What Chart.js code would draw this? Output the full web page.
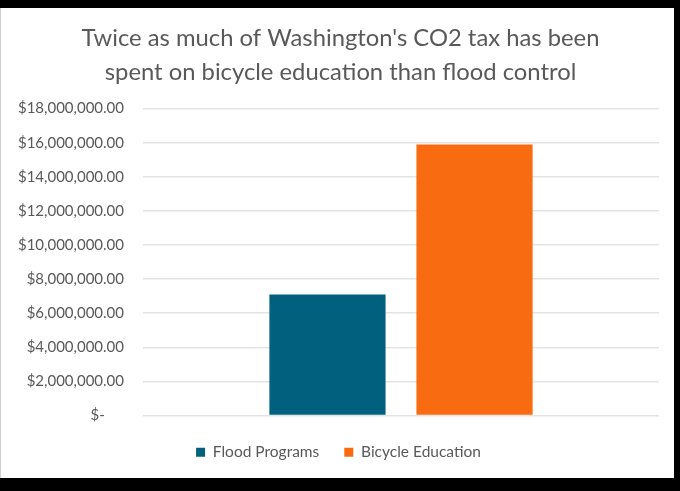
<!DOCTYPE html>
<html>
<head>
<meta charset="utf-8">
<script src="https://cdn.jsdelivr.net/npm/chart.js@4/dist/chart.umd.min.js"></script>
<style>
   html, body { margin: 0; padding: 0; background: #000; }
   body { width: 680px; height: 491px; position: relative; overflow: hidden; }
   .frame { position: absolute; left: 0; top: 8px; width: 674px; height: 470px; background: #fff; border-left: 1px solid #cfcfcf; box-sizing: border-box; }
   canvas { display: block; }
</style>
</head>
<body>
<div class="frame"><canvas id="myChart" width="673" height="470"></canvas></div>
<script>
// ==========================================
// Data
// ==========================================

const titleLines = ["Twice as much of Washington's CO2 tax has been", "spent on bicycle education than flood control"];
const categories = [""];
const seriesNames = ["Flood Programs", "Bicycle Education"];
const seriesColors = ["#02607f", "#f96b10"];
const floodValues = [7100000];
const bicycleValues = [15900000];
const yTicks = [0, 2000000, 4000000, 6000000, 8000000, 10000000, 12000000, 14000000, 16000000, 18000000];

// ==========================================
// Chart
// ==========================================

const ctx = document.getElementById("myChart");

function money(v) {
   if (v == 0) return "$-     ";
   return "$" + v.toLocaleString("en-US", { minimumFractionDigits: 2 });
}

// default legend items, with a bit more room after each text
function legendItems(chart) {
   let items = Chart.defaults.plugins.legend.labels.generateLabels(chart);
   items.forEach((it) => { it.text = it.text + " "; });
   return items;
}

// title and legend sit a little right of the canvas middle in the original
const nudgeBlocks = {
   id: "nudgeBlocks",
   afterLayout(chart) {
      if (chart.titleBlock) chart.titleBlock.left += 21;
      if (chart.legend) chart.legend.left += 21;
   }
};

let chart = new Chart(ctx, {
   type: "bar",
   data: {
      labels: categories,
      datasets: [
         { label: seriesNames[0], data: floodValues, backgroundColor: seriesColors[0] },
         { label: seriesNames[1], data: bicycleValues, backgroundColor: seriesColors[1] }
      ]
   },
   options: {
      responsive: false,
      animation: false,
      categoryPercentage: 0.57,
      barPercentage: 0.79,
      layout: { padding: { left: 0, right: 15, top: 0, bottom: 8 } },
      plugins: {
         title: {
            display: true,
            text: titleLines,
            color: "#595959",
            font: { family: "Lato", size: 23.8, weight: "normal", lineHeight: 1.4 },
            padding: { top: 14, bottom: 20 }
         },
         legend: {
            position: "bottom",
            labels: {
               color: "#595959",
               font: { family: "Lato", size: 15.5 },
               boxWidth: 9,
               boxHeight: 9,
               padding: 21,
               generateLabels: legendItems
            }
         },
         tooltip: { enabled: false }
      },
      scales: {
         x: {
            grid: { display: false },
            border: { display: false },
            ticks: { display: false }
         },
         y: {
            min: 0,
            max: 18000000,
            afterBuildTicks: (scale) => { scale.ticks = yTicks.map(v => ({ value: v })); },
            afterFit: (scale) => { scale.width = 142; },
            grid: { color: "#e3e3e3", lineWidth: 1.5, drawTicks: false },
            border: { display: false },
            ticks: {
               color: "#595959",
               font: { family: "Lato", size: 15 },
               padding: 19,
               callback: (v) => money(v)
            }
         }
      }
   },
   plugins: [nudgeBlocks]
});
</script>
</body>
</html>
